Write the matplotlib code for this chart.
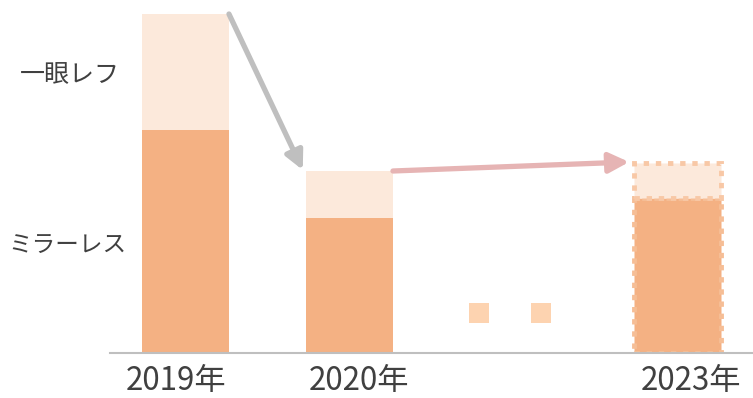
import matplotlib.pyplot as plt
import numpy as np

plt.rcParams['font.family'] = ['Noto Sans CJK JP', 'DejaVu Sans']

# bar positions (2021/2022 are skipped, shown as dots)
years = ['2019年', '2020年', '2023年']
xpos = np.array([0, 1, 3])
mirrorless = np.array([223, 135, 155])
dslr = np.array([116, 47, 35])
dots_x = [1.79, 2.17]
dots_y = [40, 40]

dark = '#F4B183'
light = '#FCE9DB'
dot_col = '#FDD3B0'
text_col = '#404040'

fig = plt.figure(figsize=(7.53, 3.98), dpi=100)
ax = fig.add_axes([110 / 753, 45 / 398, 643 / 753, 353 / 398])
ax.set_xlim(-0.4604, 3.4604)
ax.set_ylim(0, 353)

w = 0.53
solid = [0, 1]
ax.bar(xpos[solid], mirrorless[solid], width=w, color=dark, linewidth=0)
ax.bar(xpos[solid], dslr[solid], bottom=mirrorless[solid], width=w,
       color=light, linewidth=0)

# forecast bar with dotted outline
ax.bar(xpos[2], mirrorless[2], width=w, color=dark, edgecolor='#F6BE96',
       linewidth=3.5, linestyle=(0, (1.1, 1.4)), capstyle='butt')
ax.bar(xpos[2], dslr[2], bottom=mirrorless[2], width=w, color=light,
       edgecolor='#F8C8A6', linewidth=3.5, linestyle=(0, (1.1, 1.4)),
       capstyle='butt')

ax.scatter(dots_x, dots_y, marker='s', s=190, color=dot_col, linewidths=0)

# trend arrows
tot = mirrorless + dslr
ax.annotate('', xy=(xpos[1] - w / 2 - 0.02, tot[1] + 1),
            xytext=(xpos[0] + w / 2, tot[0]),
            arrowprops=dict(arrowstyle='-|>,head_length=1.1,head_width=0.55',
                            color='#BFBFBF', lw=3.8, shrinkA=0, shrinkB=0))
ax.annotate('', xy=(xpos[2] - w / 2 - 0.03, tot[2] + 1),
            xytext=(xpos[1] + w / 2, tot[1]),
            arrowprops=dict(arrowstyle='-|>,head_length=1.2,head_width=0.6',
                            color='#E6B4B4', lw=3.8, shrinkA=0, shrinkB=0))

for s in ['top', 'right', 'left']:
    ax.spines[s].set_visible(False)
ax.spines['bottom'].set_color('#BFBFBF')
ax.spines['bottom'].set_linewidth(1.5)
ax.set_xticks([])
ax.set_yticks([])

# year labels, slightly offset from the bar centres
label_x = [-0.058, 1.058, 3.08]
for lx, t in zip(label_x, years):
    ax.text(lx, -28, t, ha='center', va='center', fontsize=22.5,
            color=text_col, clip_on=False)

fig.text(70 / 753, 1 - 75 / 398, '一眼レフ', ha='center', va='center',
         fontsize=18, color=text_col)
fig.text(67 / 753, 1 - 245 / 398, 'ミラーレス', ha='center', va='center',
         fontsize=17, color=text_col)

fig.savefig('out.png', dpi=100)
